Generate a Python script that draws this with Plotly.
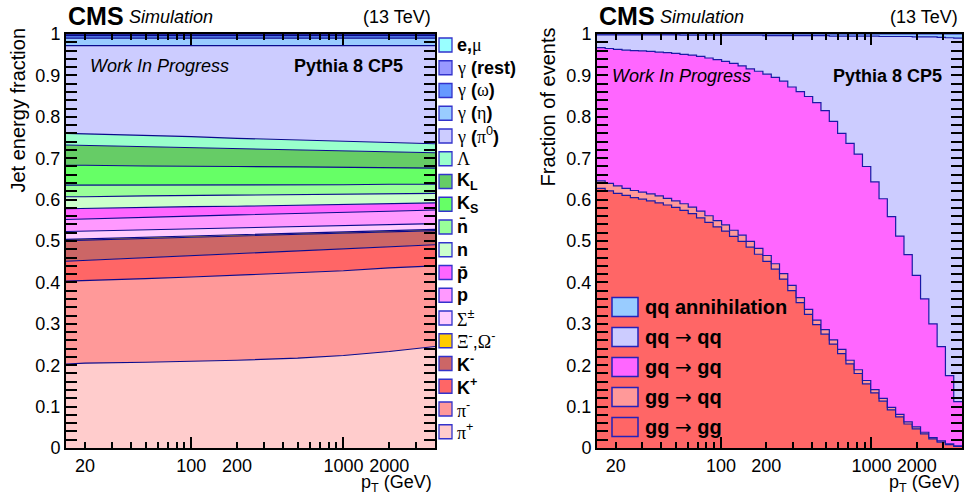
import math
import plotly.graph_objects as go

W, H = 968, 494
def px(x): return x / W
def py(y): return 1 - y / H

FONT = "Liberation Sans, Arial, Helvetica, sans-serif"
SERIF = "Liberation Serif, Times New Roman, serif"
ARROWFONT = "DejaVu Sans, sans-serif"

# ---------------- Left panel: jet energy fractions ----------------
pt_left = [15, 20, 50, 100, 200, 500, 1000, 2000, 4000]
frac_pi_plus     = [0.203, 0.205, 0.207, 0.209, 0.212, 0.217, 0.2235, 0.233, 0.245]
frac_pi_minus    = [0.200, 0.199, 0.202, 0.204, 0.205, 0.206, 0.2045, 0.202, 0.195]
frac_K_plus      = [0.048, 0.049, 0.051, 0.052, 0.053, 0.053, 0.053, 0.051, 0.051]
frac_K_minus     = [0.050, 0.049, 0.046, 0.044, 0.042, 0.040, 0.038, 0.036, 0.034]
frac_Xi_Omega    = [0.003, 0.003, 0.003, 0.003, 0.003, 0.003, 0.003, 0.003, 0.003]
frac_Sigma       = [0.019, 0.019, 0.018, 0.017, 0.017, 0.016, 0.015, 0.015, 0.014]
frac_p           = [0.029, 0.029, 0.030, 0.031, 0.031, 0.031, 0.032, 0.032, 0.033]
frac_pbar        = [0.026, 0.026, 0.024, 0.023, 0.021, 0.021, 0.020, 0.018, 0.017]
frac_n           = [0.029, 0.028, 0.028, 0.027, 0.027, 0.025, 0.024, 0.024, 0.023]
frac_nbar        = [0.028, 0.028, 0.026, 0.026, 0.025, 0.024, 0.023, 0.023, 0.022]
frac_KS          = [0.048, 0.048, 0.046, 0.045, 0.044, 0.043, 0.042, 0.040, 0.039]
frac_KL          = [0.049, 0.048, 0.047, 0.045, 0.043, 0.041, 0.040, 0.038, 0.037]
frac_Lambda      = [0.028, 0.028, 0.027, 0.026, 0.025, 0.024, 0.023, 0.023, 0.022]
frac_gamma_pi0   = [0.212, 0.213, 0.217, 0.220, 0.224, 0.228, 0.231, 0.234, 0.237]
frac_gamma_eta   = [0.018, 0.018, 0.018, 0.018, 0.018, 0.018, 0.018, 0.018, 0.018]
frac_gamma_omega = [0.006, 0.006, 0.006, 0.006, 0.006, 0.006, 0.006, 0.006, 0.006]
frac_gamma_rest  = [0.002, 0.002, 0.002, 0.002, 0.002, 0.002, 0.002, 0.002, 0.002]
frac_e_mu        = [0.002, 0.002, 0.002, 0.002, 0.002, 0.002, 0.002, 0.002, 0.002]

# stacking order bottom -> top
left_series = [
    ("π<sup>+</sup>", frac_pi_plus, "#FFCCCC"),
    ("π<sup>-</sup>", frac_pi_minus, "#FF9999"),
    ("<b>K<sup>+</sup></b>", frac_K_plus, "#FF6666"),
    ("<b>K<sup>-</sup></b>", frac_K_minus, "#CC6666"),
    ("Ξ<sup>-</sup>,Ω<sup>-</sup>", frac_Xi_Omega, "#FFCC00"),
    ("Σ<sup>±</sup>", frac_Sigma, "#FFCCFF"),
    ("<b>p</b>", frac_p, "#FF99FF"),
    ("<b>p\u0304</b>", frac_pbar, "#FF66FF"),
    ("<b>n</b>", frac_n, "#CCFFCC"),
    ("<b>n\u0304</b>", frac_nbar, "#99FF99"),
    ("<b>K<sub>S</sub></b>", frac_KS, "#66FF66"),
    ("<b>K<sub>L</sub></b>", frac_KL, "#66CC66"),
    ("Λ", frac_Lambda, "#99FFCC"),
    ("γ <b>(</b>π<sup>0</sup><b>)</b>", frac_gamma_pi0, "#CCCCFF"),
    ("γ <b>(</b>η<b>)</b>", frac_gamma_eta, "#99CCFF"),
    ("γ <b>(</b>ω<b>)</b>", frac_gamma_omega, "#6699FF"),
    ("γ <b>(rest)</b>", frac_gamma_rest, "#9999FF"),
    ("<b>e,</b>μ", frac_e_mu, "#99FFFF"),
]

# ---------------- Right panel: process fractions ----------------
pt_edges = [15, 17, 19.3, 22, 25, 28.3, 32, 36.5, 41.4, 47, 53.4, 60.6, 68.8, 78.2, 88.7,
            101, 114, 130, 147, 167, 190, 216, 245, 278, 316, 359, 407, 462, 525, 596,
            677, 768, 872, 990, 1124, 1276, 1449, 1646, 1868, 2121, 2408, 2734, 3104, 3525, 4000]
frac_gg_gg = [0.627, 0.621, 0.615, 0.610, 0.605, 0.601, 0.597, 0.592, 0.587, 0.581,
              0.574, 0.566, 0.556, 0.545, 0.534, 0.524, 0.511, 0.499, 0.485, 0.468,
              0.451, 0.432, 0.408, 0.380, 0.351, 0.323, 0.298, 0.275, 0.251, 0.228,
              0.203, 0.180, 0.155, 0.133, 0.113, 0.092, 0.075, 0.058, 0.046, 0.034,
              0.022, 0.014, 0.008, 0.004]
frac_gg_qq = [0.018, 0.018, 0.018, 0.017, 0.017, 0.017, 0.017, 0.017, 0.016, 0.016,
              0.016, 0.016, 0.016, 0.016, 0.015, 0.015, 0.015, 0.015, 0.014, 0.014,
              0.014, 0.013, 0.013, 0.013, 0.012, 0.012, 0.011, 0.011, 0.010, 0.010,
              0.009, 0.009, 0.008, 0.008, 0.007, 0.006, 0.006, 0.005, 0.005, 0.004,
              0.003, 0.003, 0.002, 0.001]
frac_gq_gq = [0.322, 0.326, 0.330, 0.334, 0.338, 0.341, 0.344, 0.347, 0.352, 0.356,
              0.361, 0.367, 0.374, 0.381, 0.389, 0.395, 0.403, 0.409, 0.417, 0.428,
              0.438, 0.450, 0.465, 0.479, 0.498, 0.514, 0.525, 0.529, 0.528, 0.522,
              0.524, 0.521, 0.517, 0.502, 0.482, 0.461, 0.431, 0.404, 0.366, 0.322,
              0.275, 0.228, 0.165, 0.107]
frac_qq_qq = [0.031, 0.033, 0.035, 0.037, 0.038, 0.039, 0.040, 0.042, 0.043, 0.045,
              0.046, 0.048, 0.051, 0.055, 0.059, 0.063, 0.068, 0.074, 0.081, 0.087,
              0.093, 0.101, 0.110, 0.124, 0.135, 0.147, 0.162, 0.181, 0.206, 0.235,
              0.259, 0.285, 0.315, 0.352, 0.392, 0.435, 0.482, 0.527, 0.576, 0.633,
              0.693, 0.747, 0.816, 0.878]
frac_qq_ann = [0.002, 0.002, 0.002, 0.002, 0.002, 0.002, 0.002, 0.002, 0.002, 0.002,
               0.003, 0.003, 0.003, 0.003, 0.003, 0.003, 0.003, 0.003, 0.003, 0.003,
               0.004, 0.004, 0.004, 0.004, 0.004, 0.004, 0.004, 0.004, 0.005, 0.005,
               0.005, 0.005, 0.005, 0.005, 0.006, 0.006, 0.006, 0.006, 0.007, 0.007,
               0.007, 0.008, 0.009, 0.010]

right_series = [
    ("<b>gg</b> → <b>gg</b>", frac_gg_gg, "#FF6666"),
    ("<b>gg</b> → <b>qq</b>", frac_gg_qq, "#FF9999"),
    ("<b>gq</b> → <b>gq</b>", frac_gq_gq, "#FF66FF"),
    ("<b>qq</b> → <b>qq</b>", frac_qq_qq, "#CCCCFF"),
    ("<b>qq annihilation</b>", frac_qq_ann, "#99CCFF"),
]

y_ticks = [0, 0.1, 0.2, 0.3, 0.4, 0.5, 0.6, 0.7, 0.8, 0.9, 1.0]
y_ticktext = ["0", "0.1", "0.2", "0.3", "0.4", "0.5", "0.6", "0.7", "0.8", "0.9", "1"]
x_ticks = [20, 100, 200, 1000, 2000]
x_ticktext = ["20", "100", "200", "1000", "2000"]
x_minor = [30, 40, 50, 60, 70, 80, 90, 300, 400, 500, 600, 700, 800, 900, 3000]
x_long = [100, 1000]
y_minor = [i / 50 for i in range(51) if i % 5 != 0]

fig = go.Figure()

LINE_L = "#0A0A8C"
for name, vals, col in left_series:
    fig.add_trace(go.Scatter(x=pt_left, y=vals, mode="lines", stackgroup="left",
                             line=dict(color=LINE_L, width=1.1), fillcolor=col,
                             showlegend=False, xaxis="x", yaxis="y", hoverinfo="skip"))

LINE_R = "#1A1AA6"
for name, vals, col in right_series:
    fig.add_trace(go.Scatter(x=pt_edges, y=vals + [vals[-1]], mode="lines", stackgroup="right",
                             line=dict(color=LINE_R, width=1.2, shape="hv"), fillcolor=col,
                             showlegend=False, xaxis="x2", yaxis="y2", hoverinfo="skip"))

# invisible traces for the long-tick overlay axes
fig.add_trace(go.Scatter(x=[], y=[], xaxis="x3", yaxis="y", showlegend=False))
fig.add_trace(go.Scatter(x=[], y=[], xaxis="x4", yaxis="y2", showlegend=False))

xr = [math.log10(15), math.log10(4000)]
ydom = [py(448), py(34)]

def xaxis_common(domain, anchor):
    return dict(type="log", range=xr, domain=domain, anchor=anchor, automargin=False,
                showline=True, linecolor="black", linewidth=2, mirror="allticks",
                ticks="inside", tickvals=x_ticks, ticktext=x_ticktext, ticklen=6,
                tickwidth=1.5, tickcolor="black", tickangle=0,
                tickfont=dict(family=FONT, size=18, color="black"),
                minor=dict(tickmode="array", tickvals=x_minor, ticks="inside", ticklen=6,
                           tickwidth=1.5, tickcolor="black", showgrid=False),
                showgrid=False, zeroline=False)

def yaxis_common(anchor):
    return dict(range=[0, 1], domain=ydom, anchor=anchor, automargin=False,
                showline=True, linecolor="black", linewidth=2, mirror="allticks",
                ticks="inside", tickvals=y_ticks, ticktext=y_ticktext, ticklen=11,
                tickwidth=1.5, tickcolor="black",
                tickfont=dict(family=FONT, size=18, color="black"),
                minor=dict(tickmode="array", tickvals=y_minor, ticks="inside", ticklen=6,
                           tickwidth=1.5, tickcolor="black", showgrid=False),
                showgrid=False, zeroline=False)

def long_tick_axis(over, anchor):
    return dict(type="log", range=xr, overlaying=over, anchor=anchor, automargin=False,
                showline=False, mirror="allticks", ticks="inside", tickvals=x_long,
                ticklen=11, tickwidth=1.5, tickcolor="black", showticklabels=False,
                showgrid=False, zeroline=False)

shapes = []
annotations = []

def text(x, y, s, size=18, xanchor="left", yanchor="middle", angle=0):
    annotations.append(dict(x=px(x), y=py(y), xref="paper", yref="paper", text=s,
                            showarrow=False, xanchor=xanchor, yanchor=yanchor,
                            textangle=angle, font=dict(family=FONT, size=size, color="black")))

def greek(s):
    for ch in "γπΛΣΞΩημω":
        s = s.replace(ch, f"<span style='font-family:{SERIF}'>{ch}</span>")
    s = s.replace("→", f"<span style='font-family:{ARROWFONT}'>→</span>")
    return s

# headers
for x0, x1 in [(66, 435), (597, 962)]:
    text(x0, 16, "<b>CMS</b>", size=25)
    text(x0 + 61, 17, "<i>Simulation</i>", size=18)
    text(x1 - 2, 17, "(13 TeV)", size=18, xanchor="right")

text(88, 66, "<i>Work In Progress</i>", size=18)
text(405, 66, "<b>Pythia 8 CP5</b>", size=18, xanchor="right")
text(610, 76, "<i>Work In Progress</i>", size=18)
text(944, 76, "<b>Pythia 8 CP5</b>", size=18, xanchor="right")

text(18, 26, "Jet energy fraction", size=20, xanchor="center", yanchor="top", angle=-90)
text(548, 26, "Fraction of events", size=20, xanchor="center", yanchor="top", angle=-90)
text(434, 483, "p<sub>T</sub> (GeV)", size=18, xanchor="right")
text(962, 483, "p<sub>T</sub> (GeV)", size=18, xanchor="right")

# left legend (top -> bottom)
for i, (name, vals, col) in enumerate(reversed(left_series)):
    yc = 45 + 22.75 * i
    shapes.append(dict(type="rect", xref="paper", yref="paper",
                       x0=px(439), x1=px(452), y0=py(yc + 7), y1=py(yc - 7),
                       fillcolor=col, line=dict(color="#3333CC", width=1.3)))
    text(455, yc, greek(name), size=18)

# right legend (top -> bottom)
for i, (name, vals, col) in enumerate(reversed(right_series)):
    yc = 307 + 30 * i
    shapes.append(dict(type="rect", xref="paper", yref="paper",
                       x0=px(612), x1=px(638), y0=py(yc + 9.5), y1=py(yc - 9.5),
                       fillcolor=col, line=dict(color="#2222BB", width=1.5)))
    text(643, yc, greek(name), size=20)

fig.update_layout(
    template="none",
    width=W, height=H, margin=dict(l=0, r=0, t=0, b=0, autoexpand=False),
    paper_bgcolor="white", plot_bgcolor="white",
    xaxis=xaxis_common([px(66), px(435)], "y"),
    yaxis=yaxis_common("x"),
    xaxis2=xaxis_common([px(597), px(962)], "y2"),
    yaxis2=yaxis_common("x2"),
    xaxis3=long_tick_axis("x", "y"),
    xaxis4=long_tick_axis("x2", "y2"),
    shapes=shapes, annotations=annotations, showlegend=False,
    font=dict(family=FONT),
)

fig.write_html("out.html")
